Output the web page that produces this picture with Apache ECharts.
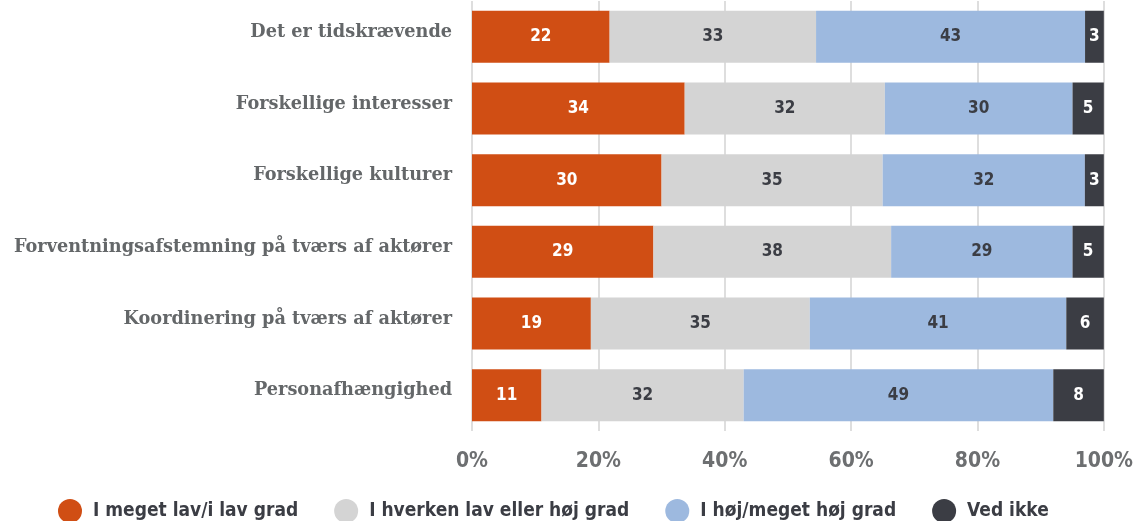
<!DOCTYPE html>
<html>
<head>
<meta charset="utf-8">
<script src="https://cdn.jsdelivr.net/npm/echarts@6/dist/echarts.min.js"></script>
<style>
    html, body { margin: 0; padding: 0; background: #fff; }
    #chart { width: 1136px; height: 521px; }
</style>
</head>
<body>
<div id="chart"></div>
<script>
let categories = [
    'Det er tidskrævende',
    'Forskellige interesser',
    'Forskellige kulturer',
    'Forventningsafstemning på tværs af aktører',
    'Koordinering på tværs af aktører',
    'Personafhængighed'
];
let seriesNames = ['I meget lav/i lav grad', 'I hverken lav eller høj grad', 'I høj/meget høj grad', 'Ved ikke'];
let lowValues = [22, 34, 30, 29, 19, 11];
let neutralValues = [33, 32, 35, 38, 35, 32];
let highValues = [43, 30, 32, 29, 41, 49];
let unknownValues = [3, 5, 3, 5, 6, 8];
let colors = ['#d04e14', '#d4d4d4', '#9db9df', '#3b3d44'];
let labelColors = ['#ffffff', '#3b3d44', '#3b3d44', '#ffffff'];

let allValues = [lowValues, neutralValues, highValues, unknownValues];
// rows are rounded, so scale each row to fill 100 %
let rowTotals = categories.map(function (c, i) {
    return allValues.reduce(function (s, arr) { return s + arr[i]; }, 0);
});

let labelFont = "'Liberation Sans Narrow', 'DejaVu Sans Condensed', sans-serif";
let catFont = "'DejaVu Serif', serif";

let myChart = echarts.init(document.getElementById('chart'));
let option = {
    backgroundColor: '#ffffff',
    animation: false,
    grid: { left: 472, right: 29, top: 1, bottom: 90 },
    legend: {
        bottom: -7,
        left: 53,
        icon: 'circle',
        itemWidth: 24,
        itemHeight: 24,
        itemGap: 36,
        textStyle: { fontFamily: labelFont, fontWeight: 'bold', fontSize: 19, color: '#3b3d44', padding: [0, 0, 0, 6] },
        data: seriesNames
    },
    xAxis: {
        type: 'value',
        min: 0,
        max: 100,
        interval: 20,
        axisLine: { show: false },
        axisTick: { show: false },
        splitLine: { lineStyle: { color: '#dedede', width: 2 } },
        axisLabel: {
            formatter: '{value}%',
            margin: 20,
            fontFamily: labelFont,
            fontWeight: 'bold',
            fontSize: 21,
            color: '#6d6f71'
        }
    },
    yAxis: {
        type: 'category',
        inverse: true,
        data: categories,
        axisLine: { show: false },
        axisTick: { show: false },
        axisLabel: {
            margin: 20,
            fontFamily: catFont,
            fontWeight: 'bold',
            fontSize: 17.7,
            color: '#646769',
            lineHeight: 9,
            verticalAlign: 'bottom'
        }
    },
    series: allValues.map(function (arr, k) {
        return {
            name: seriesNames[k],
            type: 'bar',
            stack: 'total',
            barWidth: 52,
            itemStyle: { color: colors[k] },
            label: {
                show: true,
                position: 'inside',
                fontFamily: labelFont,
                fontWeight: 'bold',
                fontSize: 17,
                color: labelColors[k],
                formatter: function (p) { return arr[p.dataIndex]; }
            },
            data: arr.map(function (v, i) { return v / rowTotals[i] * 100; })
        };
    })
};
myChart.setOption(option);
</script>
</body>
</html>
